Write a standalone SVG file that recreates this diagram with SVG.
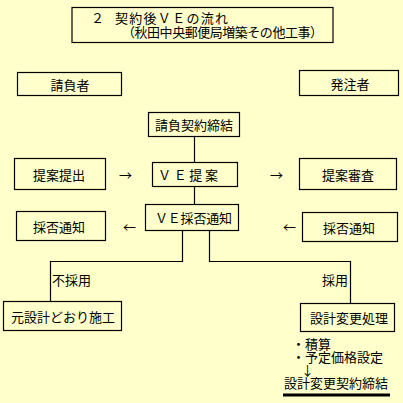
<svg xmlns="http://www.w3.org/2000/svg" width="403" height="403" viewBox="0 0 403 403">
<style>
  .box { fill: #FFFFCC; stroke: #000; stroke-width: 1.2; }
  .t { font-family: "Noto Sans CJK JP", "Noto Sans CJK SC", sans-serif; font-size: 13px; fill: #000; dominant-baseline: central; }
  .c { text-anchor: middle; }
  .ln { fill: none; stroke: #000; stroke-width: 1.2; }
</style>
<rect width="403" height="403" fill="#FFFFCC"/>
<g id="title">
  <rect class="box" x="72" y="7.5" width="261" height="35"/>
  <text class="t" x="91" y="17">２</text>
  <text class="t" x="115" y="17" textLength="113">契約後ＶＥの流れ</text>
  <text class="t" x="122" y="31" textLength="201">（秋田中央郵便局増築その他工事）</text>
</g>
<g id="contractor">
  <rect class="box" x="17.5" y="72.5" width="104" height="23"/>
  <text class="t c" x="70" y="84">請負者</text>
</g>
<g id="owner">
  <rect class="box" x="299.5" y="70.5" width="99" height="25"/>
  <text class="t c" x="350" y="83">発注者</text>
</g>
<g id="contract">
  <rect class="box" x="148.5" y="112.5" width="91" height="24"/>
  <text class="t c" x="194" y="124.5">請負契約締結</text>
</g>
<g id="proposal-submit">
  <rect class="box" x="14.5" y="158.5" width="91" height="31"/>
  <text class="t c" x="59" y="174">提案提出</text>
</g>
<g id="ve-proposal">
  <rect class="box" x="152.5" y="162.5" width="85" height="24"/>
  <text class="t" x="158" y="174.5" textLength="60">ＶＥ提案</text>
</g>
<g id="proposal-review">
  <rect class="box" x="299.5" y="158.5" width="97" height="31"/>
  <text class="t c" x="348" y="174">提案審査</text>
</g>
<g id="notice-left">
  <rect class="box" x="16.5" y="211.5" width="89" height="29"/>
  <text class="t c" x="59" y="226">採否通知</text>
</g>
<g id="ve-notice">
  <rect class="box" x="145.5" y="204.5" width="93" height="26"/>
  <text class="t" x="155" y="217.5" textLength="77">ＶＥ採否通知</text>
</g>
<g id="notice-right">
  <rect class="box" x="302.5" y="212.5" width="95" height="29"/>
  <text class="t c" x="349" y="227">採否通知</text>
</g>
<g id="original-design">
  <rect class="box" x="3.5" y="301.5" width="118" height="29"/>
  <text class="t c" x="63" y="316">元設計どおり施工</text>
</g>
<g id="design-change">
  <rect class="box" x="300.5" y="303.5" width="94" height="28"/>
  <text class="t c" x="349" y="317.5">設計変更処理</text>
</g>
<g id="connectors">
  <path class="ln" d="M194.5 136.5 V162.5"/>
  <path class="ln" d="M194.5 186.5 V204.5"/>
  <path class="ln" d="M182.5 230.5 V261.5 H50.5 V301.5"/>
  <path class="ln" d="M209.5 230.5 V261.5 H350.5 V303.5"/>
  <text class="t" x="119" y="174">→</text>
  <text class="t" x="270" y="174">→</text>
  <text class="t" x="123" y="226">←</text>
  <text class="t" x="283" y="226">←</text>
  <text class="t" x="52" y="279">不採用</text>
  <text class="t" x="348" y="279" text-anchor="end">採用</text>
</g>
<g id="notes">
  <text class="t" x="292" y="343.5">・積算</text>
  <text class="t" x="292" y="356.5">・予定価格設定</text>
  <text class="t" x="301" y="369">↓</text>
  <text class="t" x="284" y="382" textLength="104">設計変更契約締結</text>
  <line x1="283" y1="395" x2="390" y2="395" stroke="#000" stroke-width="3"/>
</g>
</svg>
